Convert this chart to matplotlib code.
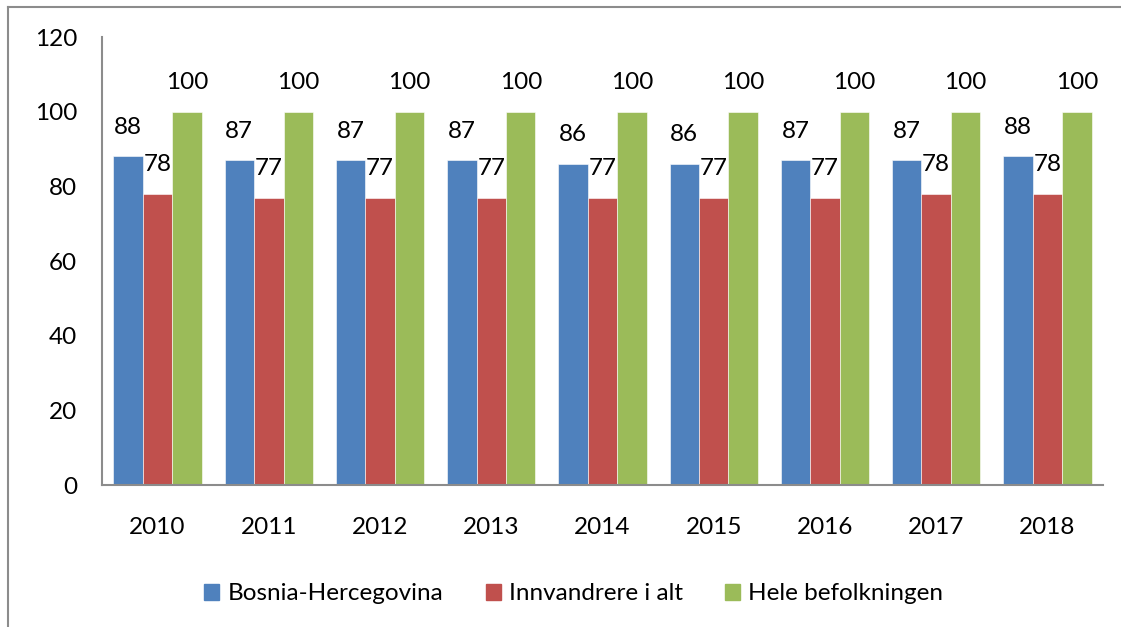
import matplotlib
matplotlib.use("Agg")
import matplotlib.pyplot as plt
import numpy as np
from matplotlib.patches import Rectangle
from matplotlib.lines import Line2D

years = ["2010", "2011", "2012", "2013", "2014", "2015", "2016", "2017", "2018"]
bosnia = [88, 87, 87, 87, 86, 86, 87, 87, 88]
innvandrere = [78, 77, 77, 77, 77, 77, 77, 78, 78]
hele = [100, 100, 100, 100, 100, 100, 100, 100, 100]
series_names = ["Bosnia-Hercegovina", "Innvandrere i alt", "Hele befolkningen"]
colors = ["#4F81BD", "#C0504D", "#9BBB59"]

plt.rcParams['font.family'] = ['Lato', 'DejaVu Sans']
FS = 17.5

W, H = 1121, 627
fig = plt.figure(figsize=(W / 100, H / 100), dpi=100)

# outer frame (left and top lines visible)
fig.add_artist(Line2D([8 / W, 8 / W], [0, 1 - 7 / H], transform=fig.transFigure, color="#8c8c8c", lw=1.5))
fig.add_artist(Line2D([8 / W, 1], [1 - 7 / H, 1 - 7 / H], transform=fig.transFigure, color="#8c8c8c", lw=1.5))

ax_l, ax_r, ax_t, ax_b = 102, 1103, 37, 485
ax = fig.add_axes([ax_l / W, 1 - ax_b / H, (ax_r - ax_l) / W, (ax_b - ax_t) / H])

x = np.arange(len(years))
bw = 0.265
for i, (vals, c, name) in enumerate(zip([bosnia, innvandrere, hele], colors, series_names)):
    pos = x + (i - 1) * bw
    ax.bar(pos, vals, width=bw, color=c, label=name, edgecolor="white", linewidth=0.4)
    for p, v in zip(pos, vals):
        ax.annotate(str(v), (p, v), xytext=(0, 21), textcoords="offset points",
                    ha="center", va="center", fontsize=FS, color="black")

ax.set_xlim(-0.5, len(years) - 0.5)
ax.set_ylim(0, 120)
ax.set_yticks(range(0, 121, 20))
ax.set_xticks(x)
ax.set_xticklabels(years)
ax.tick_params(axis="both", length=0, labelsize=FS, colors="black")
ax.tick_params(axis="y", pad=18)
ax.tick_params(axis="x", pad=23)
for s in ["top", "right"]:
    ax.spines[s].set_visible(False)
for s in ["left", "bottom"]:
    ax.spines[s].set_color("#8c8c8c")
    ax.spines[s].set_linewidth(1.5)

handles = [Rectangle((0, 0), 1, 1, color=c) for c in colors]
fig.legend(handles, series_names, loc="center", bbox_to_anchor=(0.512, 1 - 594 / H),
           ncol=3, frameon=False, fontsize=FS, handlelength=0.62, handleheight=0.62,
           columnspacing=1.75, handletextpad=0.33, borderpad=0)

fig.savefig("out.png", dpi=100)
